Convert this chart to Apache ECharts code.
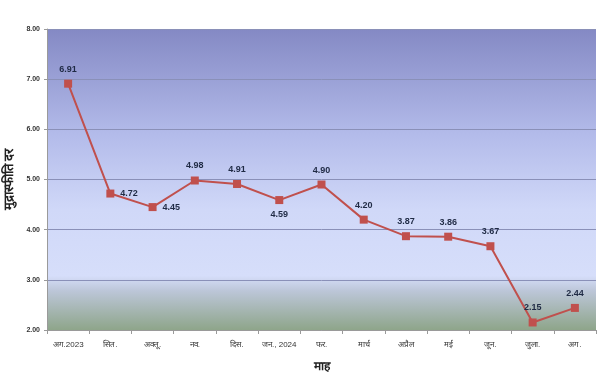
<!DOCTYPE html>
<html>
<head>
<meta charset="utf-8">
<script src="https://cdn.jsdelivr.net/npm/echarts@6/dist/echarts.min.js"></script>
<style>html,body{margin:0;padding:0;background:#fff;}#c{width:614px;height:382px;}</style>
</head>
<body>
<div id="c"></div>
<script>
var categories = ['अग.2023', 'सित.', 'अक्तू.', 'नव.', 'दिस.', 'जन., 2024', 'फर.', 'मार्च', 'अप्रैल', 'मई', 'जून.', 'जुला.', 'अग.'];
var inflation = [6.91, 4.72, 4.45, 4.98, 4.91, 4.59, 4.90, 4.20, 3.87, 3.86, 3.67, 2.15, 2.44];
var labelPositions = ['top', 'right', 'right', 'top', 'top', 'bottom', 'top', 'top', 'top', 'top', 'top', 'top', 'top'];
var yTitle = 'मुद्रास्फीति दर';
var xTitle = 'माह';

var chart = echarts.init(document.getElementById('c'), null, {renderer: 'canvas'});
var data = inflation.map(function (v, i) {
  return {value: v, label: {position: labelPositions[i]}};
});
chart.setOption({
  animation: false,
  backgroundColor: '#ffffff',
  grid: {left: 47, right: 18, top: 29, bottom: 52, show: true, borderWidth: 0,
    outerBoundsMode: 'none', containLabel: false,
    backgroundColor: new echarts.graphic.LinearGradient(0, 0, 0, 1, [
      {offset: 0, color: '#8489c4'},
      {offset: 0.35, color: '#b3bbea'},
      {offset: 0.6, color: '#d0d8f8'},
      {offset: 0.82, color: '#d6defa'},
      {offset: 0.87, color: '#bcc6d8'},
      {offset: 1, color: '#8ea58a'}
    ])},
  xAxis: {
    type: 'category', data: categories, boundaryGap: true,
    name: xTitle, nameLocation: 'middle', nameGap: 31,
    nameTextStyle: {fontSize: 12, fontWeight: 'bold', color: '#222'},
    axisLine: {lineStyle: {color: '#9a9a9a'}},
    axisTick: {show: true, lineStyle: {color: '#9a9a9a'}, length: 4},
    axisLabel: {fontSize: 8, color: '#333', margin: 11, interval: 0}
  },
  yAxis: {
    type: 'value', min: 2, max: 8, interval: 1,
    name: yTitle, nameLocation: 'middle', nameGap: 22,
    nameTextStyle: {fontSize: 13, fontWeight: 'bold', color: '#222'},
    axisLine: {show: true, lineStyle: {color: '#9a9a9a'}},
    axisTick: {show: true, lineStyle: {color: '#9a9a9a'}, length: 3},
    axisLabel: {fontSize: 7, fontWeight: 'bold', color: '#333', margin: 7, formatter: function (v) { return v.toFixed(2); }},
    splitLine: {show: true, lineStyle: {color: '#8a90b8', width: 1}}
  },
  series: [{
    type: 'line', data: data,
    symbol: 'rect', symbolSize: 8,
    itemStyle: {color: '#c0504d'},
    lineStyle: {color: '#c0504d', width: 2},
    label: {show: true, fontSize: 9, fontWeight: 'bold', color: '#1f2a44', distance: 6,
      formatter: function (p) { return p.value.toFixed(2); }}
  }]
});
</script>
</body>
</html>
